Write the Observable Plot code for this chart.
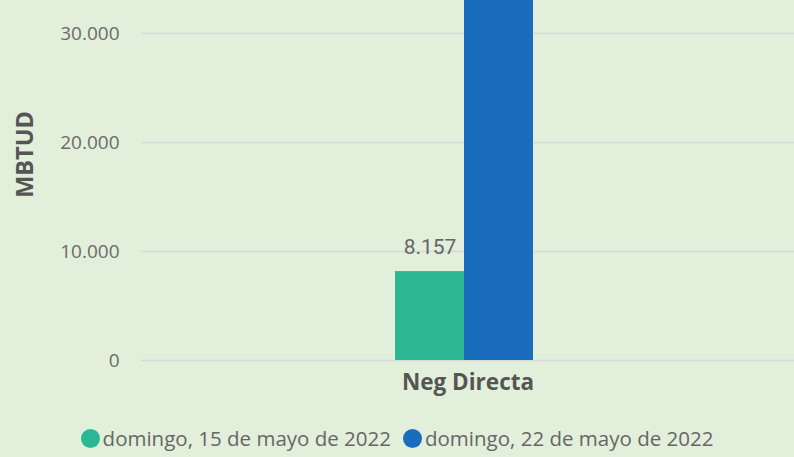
<!DOCTYPE html>
<html><head><meta charset="utf-8">
<script src="https://cdn.jsdelivr.net/npm/d3@7"></script>
<script src="https://cdn.jsdelivr.net/npm/@observablehq/plot@0.6"></script>
<style>
html,body{margin:0;padding:0;background:#E2EFDA;}
body{width:794px;height:457px;overflow:hidden;font-family:"Open Sans",sans-serif;}
#legend{display:flex;justify-content:center;align-items:center;gap:12px;height:52px;margin-top:7px;color:#666;font-size:20.5px;}
.item{display:flex;align-items:center;}
.dot{width:19px;height:19px;border-radius:50%;margin-right:3px;}
</style></head>
<body>
<div id="chart"></div>
<div id="legend"></div>
<script>
const categories = ["Neg Directa"];
const series = ["domingo, 15 de mayo de 2022", "domingo, 22 de mayo de 2022"];
const values = [8157, 40000];
const colors = ["#2BB793", "#1A6DBD"];
const yTicks = [0, 10000, 20000, 30000];

const data = series.map((s, i) => ({category: categories[0], series: s, value: values[i]}));
const fmt = v => d3.format(",")(v).replace(/,/g, ".");

const plot = Plot.plot({
  width: 794,
  height: 405,
  marginLeft: 141,
  marginRight: 0,
  marginTop: 0,
  marginBottom: 45,
  style: {background: "transparent", fontFamily: "Open Sans, sans-serif"},
  fx: {domain: categories, padding: 0, label: null, axis: null},
  x: {domain: series, paddingOuter: 3.73, paddingInner: 0, align: 0.493, axis: null},
  y: {domain: [0, 33028], ticks: yTicks, label: null, axis: null},
  color: {domain: series, range: colors},
  marks: [
    Plot.ruleY(yTicks, {stroke: "#d8d8d8", strokeWidth: 1.5}),
    Plot.barY(data, {fx: "category", x: "series", y: "value", fill: "series", clip: true}),
    Plot.text(data, {fx: "category", x: "series", y: "value", text: d => fmt(d.value), dy: -24, fill: "#666", fontSize: 21, fontFamily: "Roboto, sans-serif", clip: true}),
    Plot.axisY({ticks: yTicks, tickSize: 0, tickPadding: 22, tickFormat: fmt, fontSize: 19, color: "#6b6b6b", label: null}),
    Plot.axisFx({anchor: "bottom", tickSize: 0, tickPadding: 14, fontSize: 22.5, fontWeight: "bold", color: "#555", label: null}),
    Plot.text(["MBTUD"], {frameAnchor: "left", textAnchor: "middle", dx: -116, rotate: -90, fontSize: 23.5, fontWeight: "bold", fill: "#555", dy: -26})
  ]
});
document.getElementById("chart").appendChild(plot);

const legend = document.getElementById("legend");
series.forEach((s, i) => {
  const it = document.createElement("div");
  it.className = "item";
  const d = document.createElement("span");
  d.className = "dot";
  d.style.background = colors[i];
  const t = document.createElement("span");
  t.textContent = s;
  it.appendChild(d); it.appendChild(t);
  legend.appendChild(it);
});
</script>
</body></html>
